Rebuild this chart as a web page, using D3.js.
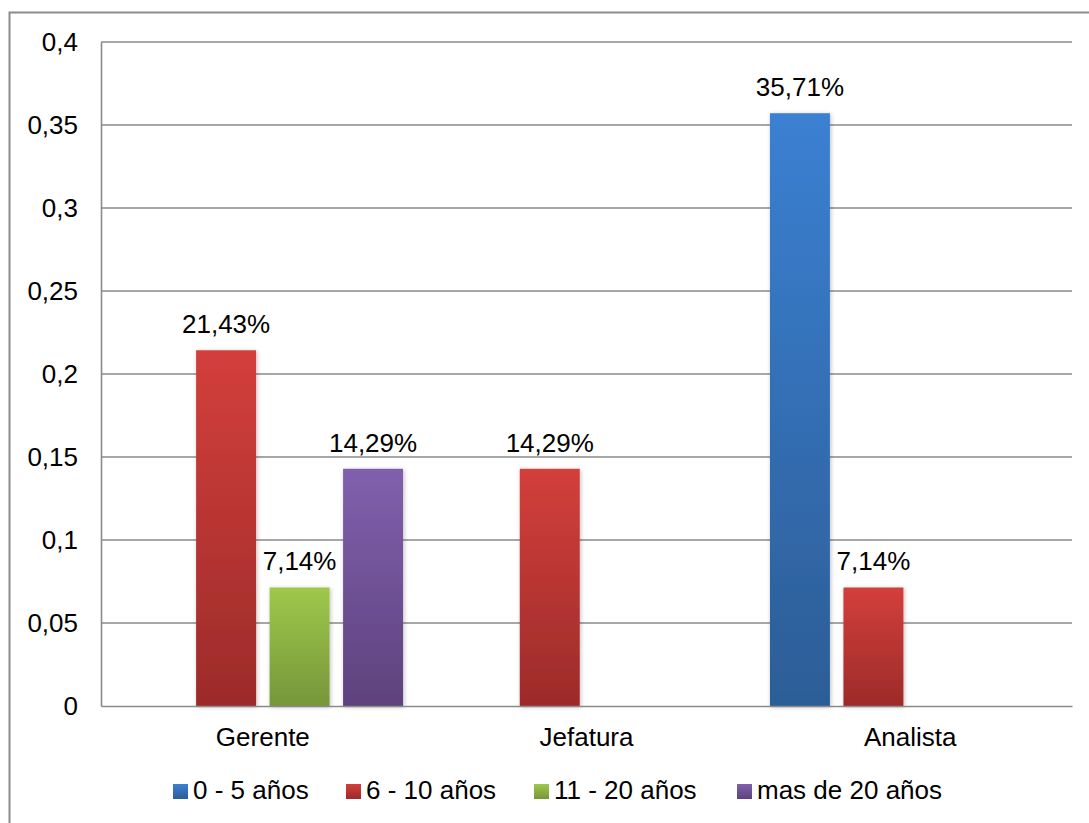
<!DOCTYPE html>
<html>
<head>
<meta charset="utf-8">
<script src="https://cdn.jsdelivr.net/npm/d3@7"></script>
<style>
  body { margin: 0; background: #fff; }
  text { font-family: "Liberation Sans", Arial, sans-serif; fill: #000; }
</style>
</head>
<body>
<div id="container"></div>
<script>
// datos
var categorias = ["Gerente", "Jefatura", "Analista"];
var series = ["0 - 5 años", "6 - 10 años", "11 - 20 años", "mas de 20 años"];
var valores = [
  [null, 0.2143, 0.0714, 0.1429],   // Gerente
  [null, 0.1429, null, null],       // Jefatura
  [0.3571, 0.0714, null, null]      // Analista
];
var etiquetas = [
  [null, "21,43%", "7,14%", "14,29%"],
  [null, "14,29%", null, null],
  ["35,71%", "7,14%", null, null]
];
var ticks = [0, 0.05, 0.1, 0.15, 0.2, 0.25, 0.3, 0.35, 0.4];

// colores (arriba, abajo) del degradado
var colores = [
  ["#3b80d2", "#2c5d96"],
  ["#d33f3b", "#9c2b2a"],
  ["#9fc84b", "#76963a"],
  ["#8060ad", "#5d427d"]
];

var W = 1089, H = 823;
var margin = { left: 101, right: 17, top: 42, bottom: 117 };
var fs = "26px";

var svg = d3.select("#container").append("svg")
  .attr("width", W).attr("height", H);

var defs = svg.append("defs");
colores.forEach(function (c, i) {
  var g = defs.append("linearGradient").attr("id", "grad" + i)
    .attr("x1", 0).attr("y1", 0).attr("x2", 0).attr("y2", 1);
  g.append("stop").attr("offset", "0%").attr("stop-color", c[0]);
  g.append("stop").attr("offset", "100%").attr("stop-color", c[1]);
});
var f = defs.append("filter").attr("id", "sombra")
  .attr("x", "-20%").attr("y", "-5%").attr("width", "140%").attr("height", "110%");
f.append("feDropShadow").attr("dx", 1).attr("dy", 1).attr("stdDeviation", 2)
  .attr("flood-color", "#000").attr("flood-opacity", 0.25);

// borde exterior
svg.append("rect")
  .attr("x", 9.5).attr("y", 12.5).attr("width", W).attr("height", H)
  .attr("fill", "none").attr("stroke", "#8c8c8c").attr("stroke-width", 2);

// escalas
var x0 = d3.scaleBand().domain(categorias).range([margin.left, W - margin.right]);
var x1 = d3.scaleBand().domain(series).range([0, x0.bandwidth()])
  .paddingInner(0.184).paddingOuter(0.294);
var y = d3.scaleLinear().domain([0, 0.4]).range([H - margin.bottom, margin.top]);

// grilla
svg.append("g").selectAll("line").data(ticks.filter(function (t) { return t > 0; }))
  .enter().append("line")
  .attr("x1", margin.left).attr("x2", W - margin.right)
  .attr("y1", function (d) { return y(d); }).attr("y2", function (d) { return y(d); })
  .attr("stroke", "#8a8a8a").attr("stroke-width", 1.6);

// eje y
var yAxis = svg.append("g")
  .attr("transform", "translate(" + margin.left + ",0)")
  .call(d3.axisLeft(y).tickValues(ticks).tickSize(0).tickPadding(23)
    .tickFormat(function (d) { return String(d).replace(".", ","); }));
yAxis.select(".domain").attr("stroke", "#8a8a8a").attr("stroke-width", 1.6);
yAxis.selectAll("text").style("font-size", fs)
  .style("font-family", "'Liberation Sans', Arial, sans-serif");

// barras
var grupos = svg.append("g").selectAll("g").data(categorias).enter().append("g")
  .attr("transform", function (d) { return "translate(" + x0(d) + ",0)"; });

grupos.each(function (cat, ci) {
  var g = d3.select(this);
  var datos = series.map(function (s, si) {
    return { s: s, si: si, v: valores[ci][si], lab: etiquetas[ci][si] };
  }).filter(function (d) { return d.v != null; });

  g.selectAll("rect").data(datos).enter().append("rect")
    .attr("x", function (d) { return x1(d.s); })
    .attr("y", function (d) { return y(d.v); })
    .attr("width", x1.bandwidth())
    .attr("height", function (d) { return y(0) - y(d.v); })
    .attr("fill", function (d) { return "url(#grad" + d.si + ")"; })
    .attr("filter", "url(#sombra)");

  g.selectAll("text").data(datos).enter().append("text")
    .attr("x", function (d) { return x1(d.s) + x1.bandwidth() / 2; })
    .attr("y", function (d) { return y(d.v) - 17; })
    .attr("text-anchor", "middle")
    .style("font-size", fs)
    .text(function (d) { return d.lab; });
});

// eje x
var xAxis = svg.append("g")
  .attr("transform", "translate(0," + y(0) + ")")
  .call(d3.axisBottom(x0).tickSize(0).tickPadding(22));
xAxis.select(".domain").attr("stroke", "#8a8a8a").attr("stroke-width", 1.6);
xAxis.selectAll("text").style("font-size", fs)
  .style("font-family", "'Liberation Sans', Arial, sans-serif");

// leyenda
var legX = [173, 346, 534, 737];
var leyenda = svg.append("g").selectAll("g").data(series).enter().append("g")
  .attr("transform", function (d, i) { return "translate(" + legX[i] + ",784)"; });
leyenda.append("rect").attr("width", 15).attr("height", 15)
  .attr("fill", function (d, i) { return "url(#grad" + i + ")"; });
leyenda.append("text").attr("x", 20).attr("y", 15)
  .style("font-size", fs)
  .text(function (d) { return d; });
</script>
</body>
</html>
